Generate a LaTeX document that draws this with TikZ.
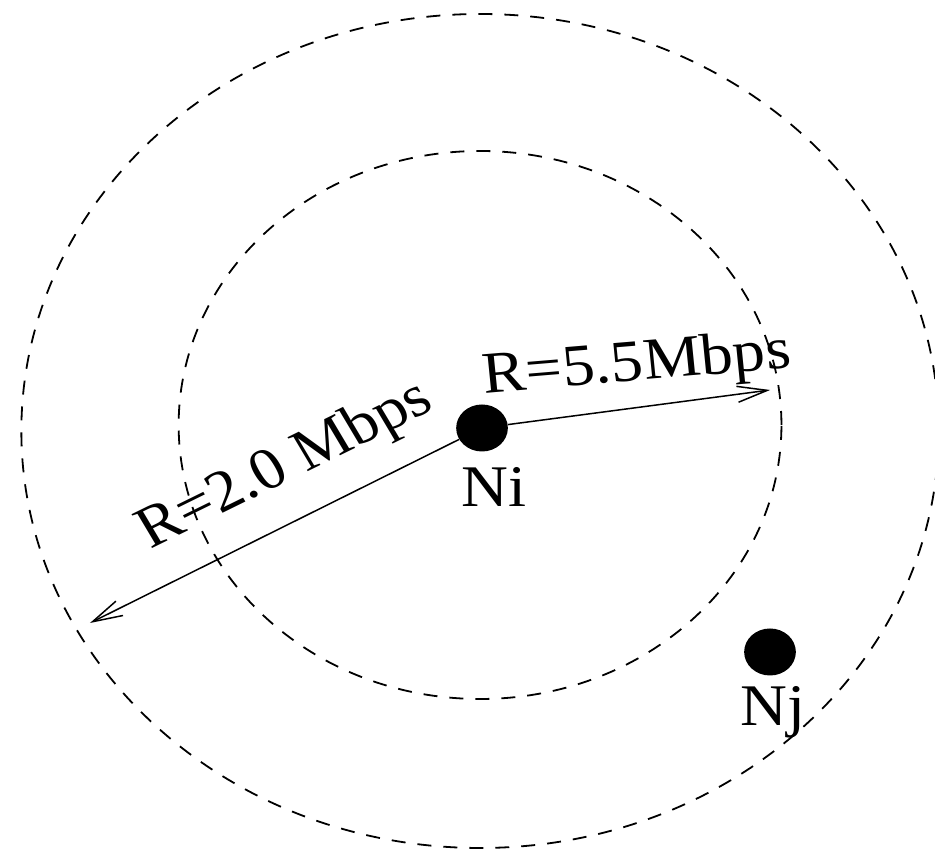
\documentclass[tikz,border=0pt]{standalone}
\usepackage{fontspec}
\setmainfont{Liberation Serif}
\usetikzlibrary{arrows.meta}
\begin{document}
\begin{tikzpicture}[x=1pt,y=1pt,xscale=1.1,
  every node/.append style={transform shape},
  ring/.style={dash pattern=on 14pt off 12pt, line width=1.8pt},
  dot/.style={circle, fill=black, inner sep=0pt, minimum size=47pt},
  lbl/.style={font=\fontsize{59}{70}\selectfont, inner sep=0pt, anchor=base},
  arr/.style={line width=1.5pt, -{Straight Barb[length=30pt,width=16pt,line width=1.5pt]}}]
\clip (0,0) rectangle (850,856);
\fill[white] (0,0) rectangle (850,856);
% range rings
\draw[ring] (436.4,425) circle[radius=417];
\draw[ring] (436.4,431) circle[radius=274];
% nodes
\node[dot] (ni) at (438.2,428) {};
\node[dot] (nj) at (700,204) {};
\node[lbl] (niLabel) at (449,349) {Ni};
\node[lbl] (njLabel) at (702.7,130) {Nj};
% arrow ends
\coordinate (t1) at (81.8,233);
\coordinate (t2) at (700,466);
\draw[arr] (ni) -- (t1);
\draw[arr] (ni) -- (t2);
% rate labels
\node[lbl, rotate=28.4] (r1) at (266.5,377) {R=2.0 Mbps};
\node[lbl, rotate=5.2] (r2) at (580.5,475.5) {R=5.5Mbps};
\end{tikzpicture}
\end{document}
